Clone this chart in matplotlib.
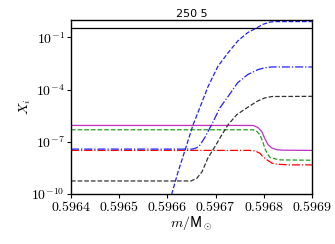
import math
import matplotlib
matplotlib.use("Agg")
import matplotlib.pyplot as plt
from matplotlib.ticker import FuncFormatter, NullLocator

plt.rcParams['mathtext.fontset'] = 'cm'
plt.rcParams['font.family'] = ['DejaVu Sans']

title = "250 5"

# black solid
x_k = [0.5964, 0.5969]
y_k = [0.33, 0.33]

# blue dashed
x_bd = [0.596605, 0.596622, 0.596637, 0.596653, 0.596668, 0.596684, 0.596705,
        0.596726, 0.596746, 0.596767, 0.596786, 0.596798, 0.596813, 0.596825, 0.5969]
y_bd = [4.0e-11, 1.8e-9, 3.5e-8, 8.9e-7, 1.0e-5, 1.4e-4, 2.2e-3,
        1.3e-2, 6.2e-2, 0.19, 0.36, 0.56, 0.76, 0.81, 0.81]

# blue dash-dot
x_bdd = [0.5964, 0.596651, 0.596659, 0.596666, 0.596678, 0.596693, 0.596709,
         0.596726, 0.596746, 0.596767, 0.596788, 0.596802, 0.596817, 0.5969]
y_bdd = [3.8e-8, 3.8e-8, 4.3e-8, 5.6e-8, 1.8e-7, 1.1e-6, 8.9e-6,
         4.0e-5, 2.5e-4, 7.4e-4, 1.4e-3, 1.8e-3, 2.0e-3, 2.0e-3]

# black dashed
x_kd = [0.5964, 0.596649, 0.596661, 0.596672, 0.596684, 0.596699, 0.596713,
        0.596726, 0.596744, 0.596765, 0.596786, 0.596802, 0.596817, 0.5969]
y_kd = [5.6e-10, 5.6e-10, 7.9e-10, 1.9e-9, 1.15e-8, 5.4e-8, 2.5e-7,
        9.5e-7, 3.6e-6, 8.9e-6, 2.1e-5, 3.3e-5, 4.0e-5, 4.1e-5]

# magenta solid
x_m = [0.5964, 0.596778, 0.596788, 0.596796, 0.596802, 0.596809, 0.596817,
       0.596827, 0.596840, 0.5969]
y_m = [8.7e-7, 8.7e-7, 6.6e-7, 3.9e-7, 1.6e-7, 6.8e-8, 4.4e-8,
       3.5e-8, 3.3e-8, 3.2e-8]

# green dashed
x_g = [0.5964, 0.596778, 0.596786, 0.596792, 0.596798, 0.596802, 0.596807,
       0.596813, 0.596825, 0.596834, 0.5969]
y_g = [4.9e-7, 4.9e-7, 3.9e-7, 2.5e-7, 1.05e-7, 4.4e-8, 2.2e-8,
       1.26e-8, 1.02e-8, 9.1e-9, 8.7e-9]

# red dash-dot
x_r = [0.5964, 0.596771, 0.596782, 0.596792, 0.596798, 0.596807, 0.596817,
       0.596829, 0.596854, 0.5969]
y_r = [3.2e-8, 3.2e-8, 3.0e-8, 2.2e-8, 1.4e-8, 9.1e-9, 5.9e-9,
       5.1e-9, 4.7e-9, 4.7e-9]

xticks = [0.5964, 0.5965, 0.5966, 0.5967, 0.5968, 0.5969]
yticks = [1e-10, 1e-7, 1e-4, 1e-1]

fig = plt.figure(figsize=(3.35, 2.44), dpi=100)
ax = fig.add_axes([0.212, 0.205, 0.719, 0.713])

lw = 0.9
ax.plot(x_k, y_k, color='k', lw=lw, ls='-')
ax.plot(x_m, y_m, color='#c030c0', lw=lw, ls='-')
ax.plot(x_g, y_g, color='#20a020', lw=lw, ls='--')
ax.plot(x_r, y_r, color='r', lw=lw, ls='-.')
ax.plot(x_bdd, y_bdd, color='#2020ff', lw=lw, ls='-.')
ax.plot(x_kd, y_kd, color='#333333', lw=lw, ls='--')
ax.plot(x_bd, y_bd, color='#2020ff', lw=lw, ls='--')

ax.set_yscale('log')
ax.set_xlim(0.5964, 0.5969)
ax.set_ylim(1e-10, 1.0)
ax.set_xticks(xticks)
ax.set_yticks(yticks)
ax.yaxis.set_minor_locator(NullLocator())
ax.xaxis.set_major_formatter(FuncFormatter(lambda v, p: r'$%.4f$' % v))
ax.yaxis.set_major_formatter(FuncFormatter(lambda v, p: r'$10^{%d}$' % round(math.log10(v))))
ax.tick_params(labelsize=10, length=3, width=0.8, pad=1.5)

for s in ax.spines.values():
    s.set_linewidth(1.0)

ax.set_title(title, fontsize=8, pad=2)
ax.set_xlabel(r'$m/\mathsf{M}_\odot$', fontsize=10, labelpad=0)
ax.set_ylabel(r'$X_i$', fontsize=10, labelpad=-1)

fig.savefig('out.png', dpi=100)
